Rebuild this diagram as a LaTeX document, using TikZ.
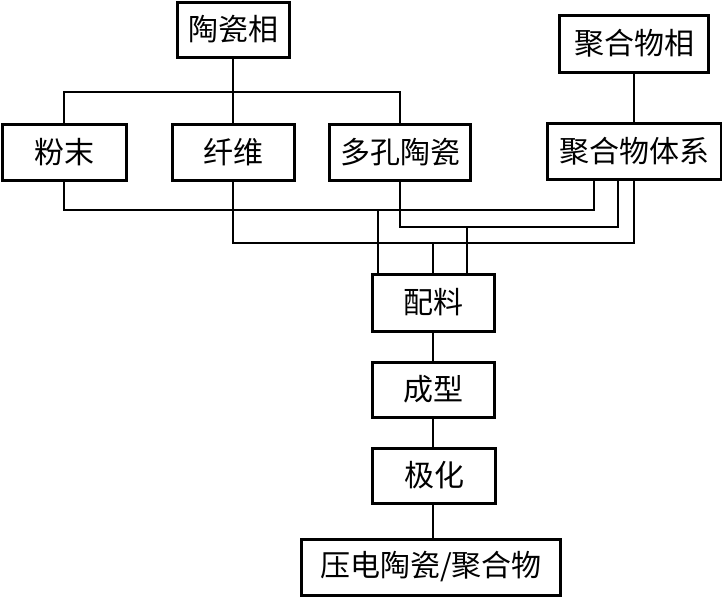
\documentclass[tikz,border=0pt]{standalone}
\usepackage{fontspec}
\newfontfamily\cjk{Noto Sans CJK SC}
\begin{document}
\begin{tikzpicture}[x=1pt,y=-1pt,
  box/.style={draw=black,line width=3pt,fill=white,inner sep=0pt,minimum height=56pt,
    font=\cjk\fontsize{30pt}{30pt}\selectfont},
  conn/.style={draw=black,line width=1.3pt}]
\useasboundingbox (0,0) rectangle (722,597);
\fill[white] (0,0) rectangle (722,597);
% nodes
\node[box,minimum width=112pt,minimum height=55pt] (tc) at (233,29.5) {陶瓷相};
\node[box,minimum width=149pt,minimum height=57pt] (jh) at (634,43.5) {聚合物相};
\node[box,minimum width=124pt] (fm) at (64,152) {粉末};
\node[box,minimum width=122pt] (xw) at (233,152) {纤维};
\node[box,minimum width=141pt] (dk) at (400,152) {多孔陶瓷};
\node[box,minimum width=174pt] (jt) at (634,151) {聚合物体系};
\node[box,minimum width=122pt,minimum height=57pt] (pl) at (433,302.5) {配料};
\node[box,minimum width=122pt,minimum height=55pt] (cx) at (433,389.5) {成型};
\node[box,minimum width=123pt,minimum height=55pt] (jhua) at (434,475.5) {极化};
\node[box,minimum width=259pt] (yd) at (431,567) {压电陶瓷/聚合物};
% junction coordinates
\coordinate (busT) at (0,92);
\coordinate (b1) at (594,210);
\coordinate (b2) at (618,227);
\coordinate (b3) at (634,243);
\coordinate (d1) at (378,210);
\coordinate (d2) at (433,243);
\coordinate (d3) at (467,227);
% top connectors
\draw[conn] (tc.south) -- (xw.north);
\draw[conn] (fm.north) -- (fm.north |- busT) -- (dk.north |- busT) -- (dk.north);
\draw[conn] (jh.south) -- (jt.north);
% bottom connectors
\draw[conn] (fm.south) |- (b1) -- (b1 |- jt.south);
\draw[conn] (dk.south) |- (b2) -- (b2 |- jt.south);
\draw[conn] (xw.south) |- (b3) -- (b3 |- jt.south);
\draw[conn] (d1) -- (d1 |- pl.north);
\draw[conn] (d2) -- (pl.north);
\draw[conn] (d3) -- (d3 |- pl.north);
% chain
\draw[conn] (pl.south) -- (cx.north);
\draw[conn] (cx.south) -- (jhua.north -| cx.south);
\draw[conn] (jhua.south -| cx.south) -- (yd.north -| cx.south);
\end{tikzpicture}
\end{document}
